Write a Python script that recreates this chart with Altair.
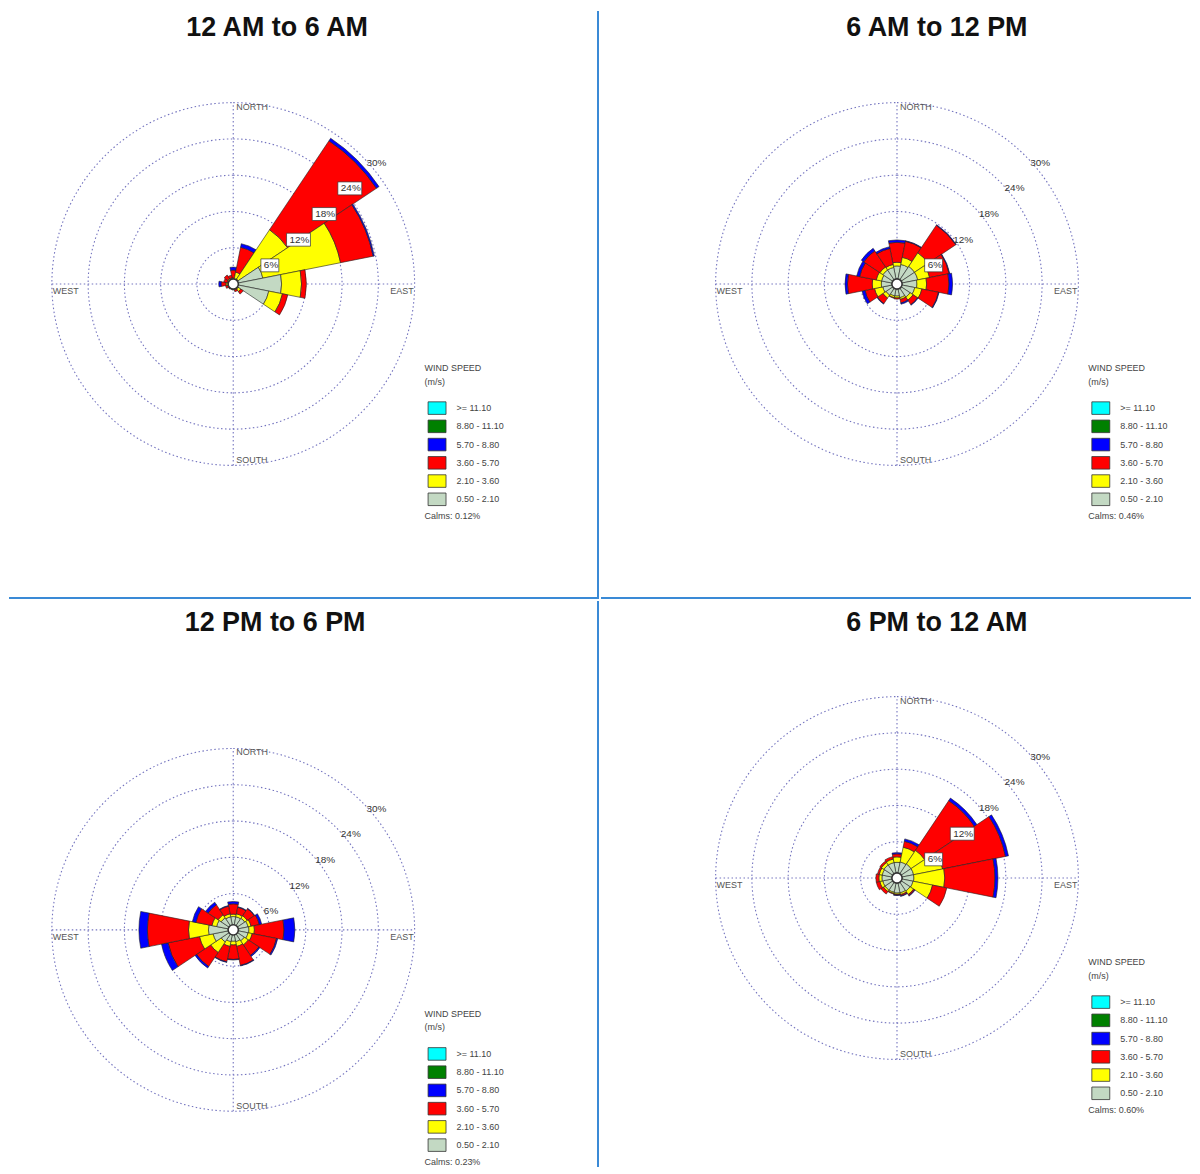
import altair as alt
import pandas as pd
import numpy as np

# ---------------- data ----------------
DIRS = ["N", "NNE", "NE", "ENE", "E", "ESE", "SE", "SSE",
        "S", "SSW", "SW", "WSW", "W", "WNW", "NW", "NNW"]
BINS = ["0.50 - 2.10", "2.10 - 3.60", "3.60 - 5.70", "5.70 - 8.80", "8.80 - 11.10", ">= 11.10"]
BIN_COLORS = ["#c3d9c3", "#ffff00", "#ff0000", "#0000ff", "#008000", "#00ffff"]
TITLES = ["12 AM to 6 AM", "6 AM to 12 PM", "12 PM to 6 PM", "6 PM to 12 AM"]
CALMS = ["Calms: 0.12%", "Calms: 0.46%", "Calms: 0.23%", "Calms: 0.60%"]
RINGS = [6, 12, 18, 24, 30]
RING_LABELS = ["6%", "12%", "18%", "24%", "30%"]
BOXED = [[True, True, True, True, False],
         [True, False, False, False, False],
         [False, False, False, False, False],
         [True, True, False, False, False]]
CARDINALS = ["NORTH", "SOUTH", "WEST", "EAST"]

# cumulative frequency (%) at the outer edge of each speed class, per direction
P1_GRAY = [0.7, 0.8, 1.0, 5.0, 8.0, 6.0, 1.0, 0.8, 0.7, 0.6, 0.6, 0.7, 0.8, 0.7, 0.8, 0.7]
P1_YELLOW = [1.0, 2.0, 10.8, 18.1, 11.3, 8.3, 1.5, 1.0, 0.9, 0.8, 0.8, 0.9, 1.2, 1.0, 1.1, 1.0]
P1_RED = [2.3, 6.2, 28.5, 23.6, 12.1, 9.2, 2.0, 1.3, 1.0, 0.9, 1.0, 1.3, 2.0, 1.6, 1.8, 1.5]
P1_BLUE = [2.8, 6.8, 29.0, 23.8, 12.1, 9.2, 2.0, 1.3, 1.0, 0.9, 1.0, 1.3, 2.4, 1.6, 1.8, 1.5]

P2_GRAY = [3.0, 3.3, 3.5, 3.5, 3.3, 3.0, 2.6, 2.3, 2.0, 2.0, 2.2, 2.4, 2.6, 2.6, 2.8, 2.8]
P2_YELLOW = [3.6, 4.5, 6.2, 5.5, 4.9, 4.2, 3.2, 2.6, 2.3, 2.3, 2.8, 3.8, 4.1, 3.5, 3.4, 3.3]
P2_RED = [6.9, 7.2, 11.7, 8.8, 8.6, 7.0, 4.1, 3.2, 2.5, 2.4, 3.9, 5.4, 8.2, 6.3, 6.6, 6.0]
P2_BLUE = [7.3, 7.3, 11.8, 8.9, 9.2, 7.1, 4.2, 3.4, 2.5, 2.4, 4.0, 5.9, 8.6, 6.8, 7.1, 6.3]

P3_GRAY = [2.2, 2.2, 2.3, 2.5, 2.6, 2.5, 2.2, 2.0, 1.9, 2.0, 2.4, 3.4, 4.1, 2.8, 2.4, 2.2]
P3_YELLOW = [2.6, 2.7, 2.8, 3.0, 3.5, 3.2, 3.0, 2.8, 2.5, 2.8, 4.5, 5.7, 7.4, 3.6, 3.0, 2.7]
P3_RED = [4.3, 3.8, 4.2, 4.4, 8.4, 7.3, 5.1, 6.0, 4.9, 5.4, 7.3, 11.0, 14.2, 6.3, 5.0, 4.0]
P3_BLUE = [4.7, 3.9, 4.3, 4.8, 10.2, 7.5, 5.3, 6.1, 5.0, 5.5, 7.6, 12.1, 15.6, 6.9, 5.5, 4.1]

P4_GRAY = [2.6, 2.7, 2.8, 2.8, 2.8, 2.7, 2.6, 2.5, 2.5, 2.4, 2.4, 2.4, 2.5, 2.5, 2.6, 2.6]
P4_YELLOW = [3.5, 5.2, 5.5, 7.7, 7.9, 6.0, 3.3, 2.8, 2.7, 2.6, 2.7, 2.9, 3.0, 3.0, 3.1, 3.2]
P4_RED = [4.0, 6.2, 15.4, 18.3, 16.2, 8.4, 3.5, 3.0, 2.8, 2.7, 3.2, 3.5, 3.5, 3.3, 3.4, 3.6]
P4_BLUE = [4.2, 6.6, 15.9, 18.8, 16.7, 8.4, 3.6, 3.1, 2.9, 2.7, 3.2, 3.5, 3.5, 3.3, 3.4, 3.6]

PANELS = [[P1_GRAY, P1_YELLOW, P1_RED, P1_BLUE],
          [P2_GRAY, P2_YELLOW, P2_RED, P2_BLUE],
          [P3_GRAY, P3_YELLOW, P3_RED, P3_BLUE],
          [P4_GRAY, P4_YELLOW, P4_RED, P4_BLUE]]

# ---------------- layout (pixels) ----------------
R = 182.0                      # radius of the 30 % ring
K = R / 30.0                   # pixels per percent
PANEL_W = [592, 592, 592, 592]
PANEL_H = [590, 590, 568, 568]
CENTERS = [(225, 274), (297, 274), (225, 330), (297, 278)]
TITLE_POS = [(269, 17), (337, 17), (267, 22), (337, 22)]
DIVIDERS = [["right", "bottom"], ["bottom"], ["right"], []]
FONT = "Liberation Sans"
LINE_BLUE = "#3a8ad6"
GRID = "#7474bf"


def build_panel(i):
    W, H = PANEL_W[i], PANEL_H[i]
    cx, cy = CENTERS[i]
    xs = alt.Scale(domain=[-cx / K, (W - cx) / K], nice=False, zero=False)
    ys = alt.Scale(domain=[-(H - cy) / K, cy / K], nice=False, zero=False)
    rs = alt.Scale(type="linear", domain=[0, 30], range=[0, R], zero=True, nice=False)
    ts = alt.Scale(domain=[0, 360], range=[0, 2 * np.pi], nice=False, zero=False)

    def X(f):
        return alt.X(f, type="quantitative", scale=xs, axis=None)

    def Y(f):
        return alt.Y(f, type="quantitative", scale=ys, axis=None)

    def RAD(f):
        return alt.Radius(f, type="quantitative", scale=rs, stack=None)

    # petals
    rows = []
    for d, name in enumerate(DIRS):
        prev = 0.0
        for b, vals in enumerate(PANELS[i]):
            v = vals[d]
            if v > prev:
                rows.append(dict(dir=name, a0=d * 22.5 - 11.25, a1=d * 22.5 + 11.25,
                                 r0=prev, r1=v, bin=BINS[b], cx=0.0, cy=0.0))
                prev = v
    petals = pd.DataFrame(rows)

    legend = alt.Legend(
        orient="none", legendX=cx + 192, legendY=cy + 80,
        title=["WIND SPEED", "(m/s)"], titleFont=FONT, titleFontSize=9,
        titleFontWeight="normal", titleColor="#444", titleLineHeight=14,
        titlePadding=12, labelFont=FONT, labelFontSize=9, labelColor="#444",
        labelOffset=10, symbolType="M-1,-0.7H1V0.7H-1Z", symbolSize=324,
        symbolStrokeColor="#333", symbolStrokeWidth=0.8, symbolOffset=3,
        rowPadding=0.3)

    petal_layer = alt.Chart(petals).mark_arc(stroke="#222", strokeWidth=0.6).encode(
        x=X("cx"), y=Y("cy"),
        theta=alt.Theta("a0:Q", scale=ts, stack=None),
        theta2="a1:Q",
        radius=RAD("r1"),
        radius2="r0:Q",
        color=alt.Color("bin:N", scale=alt.Scale(domain=BINS[::-1], range=BIN_COLORS[::-1]),
                        legend=legend),
    )

    # rings
    rings = pd.DataFrame({"rr": RINGS, "cx": 0.0, "cy": 0.0})
    ring_layer = alt.Chart(rings).mark_arc(filled=False, stroke=GRID, strokeWidth=1.1,
                                           strokeDash=[1.5, 2.5]).encode(
        x=X("cx"), y=Y("cy"),
        theta=alt.value(0), theta2=alt.value(2 * np.pi),
        radius=RAD("rr"),
    )

    # spokes
    spokes = pd.DataFrame({"x": [-30.0, 0.0], "y": [0.0, -30.0], "x2": [30.0, 0.0], "y2": [0.0, 30.0]})
    spoke_layer = alt.Chart(spokes).mark_rule(color=GRID, strokeWidth=1.1,
                                             strokeDash=[1.5, 2.5]).encode(
        x=X("x"), y=Y("y"), x2="x2:Q", y2="y2:Q")

    # calm circle
    calm = pd.DataFrame({"rc": [0.85], "cx": [0.0], "cy": [0.0]})
    calm_layer = alt.Chart(calm).mark_arc(fill="white", stroke="#333", strokeWidth=1.6).encode(
        x=X("cx"), y=Y("cy"),
        theta=alt.value(0), theta2=alt.value(2 * np.pi),
        radius=RAD("rc"),
    )

    # ring labels and boxes
    c45 = np.cos(np.pi / 4)
    lab = pd.DataFrame({"r": RINGS, "label": RING_LABELS, "boxed": BOXED[i]})
    lab["px"] = lab["r"] * c45
    lab["tx"] = lab["px"] + 5 / K
    lab["ty"] = lab["px"] - 7 / K
    lab["bx"] = lab["px"] + 2 / K
    lab["bx2"] = lab["px"] + (8 + 6 * lab["label"].str.len()) / K
    lab["by"] = lab["px"] - 0.5 / K
    lab["by2"] = lab["px"] - 13.5 / K
    boxes = lab[lab["boxed"]]
    box_layer = alt.Chart(boxes).mark_rect(fill="white", stroke="#333", strokeWidth=0.7).encode(
        x=X("bx"), x2="bx2:Q", y=Y("by"), y2="by2:Q")
    ring_text = alt.Chart(lab).mark_text(align="left", baseline="middle", font=FONT,
                                         fontSize=10, color="#333").encode(
        x=X("tx"), y=Y("ty"), text="label:N")

    # cardinal labels
    card = pd.DataFrame({
        "label": CARDINALS,
        "x": [3 / K, 3 / K, -30 + 1 / K, 30 - 1 / K],
        "y": [30 - 4 / K, -30 + 5 / K, -7 / K, -7 / K],
        "side": ["l", "l", "l", "r"],
    })
    card_left = alt.Chart(card[card["side"] == "l"]).mark_text(
        align="left", baseline="middle", font=FONT, fontSize=9, color="#555").encode(
        x=X("x"), y=Y("y"), text="label:N")
    card_right = alt.Chart(card[card["side"] == "r"]).mark_text(
        align="right", baseline="middle", font=FONT, fontSize=9, color="#555").encode(
        x=X("x"), y=Y("y"), text="label:N")

    # title
    tx, ty = TITLE_POS[i]
    title_df = pd.DataFrame({"label": [TITLES[i]], "x": [(tx - cx) / K], "y": [(cy - ty) / K]})
    title_layer = alt.Chart(title_df).mark_text(
        align="center", baseline="middle", font=FONT, fontSize=27, fontWeight="bold",
        color="#111").encode(x=X("x"), y=Y("y"), text="label:N")

    # calms
    calms_df = pd.DataFrame({"label": [CALMS[i]], "x": [192 / K], "y": [-233 / K]})
    calms_layer = alt.Chart(calms_df).mark_text(
        align="left", baseline="middle", font=FONT, fontSize=9, color="#444").encode(
        x=X("x"), y=Y("y"), text="label:N")

    layers = [spoke_layer, ring_layer, petal_layer, calm_layer, box_layer, ring_text,
              card_left, card_right, title_layer, calms_layer]

    # divider lines
    segs = []
    for side in DIVIDERS[i]:
        if side == "right":
            segs.append((W - 1, 0, W - 1, H))
        if side == "bottom":
            segs.append((0, H - 1, W, H - 1))
    if segs:
        div = pd.DataFrame(segs, columns=["px", "py", "px2", "py2"])
        div["x"] = (div["px"] - cx) / K
        div["x2"] = (div["px2"] - cx) / K
        div["y"] = (cy - div["py"]) / K
        div["y2"] = (cy - div["py2"]) / K
        layers.append(alt.Chart(div).mark_rule(color=LINE_BLUE, strokeWidth=2).encode(
            x=X("x"), y=Y("y"), x2="x2:Q", y2="y2:Q"))

    return alt.layer(*layers).properties(width=W, height=H)


panels = [build_panel(i) for i in range(4)]
chart = alt.concat(*panels, columns=2, spacing=0).resolve_scale(
    x="independent", y="independent", color="independent",
    radius="independent", theta="independent"
).resolve_legend(color="independent").properties(
    padding=0, background="white"
).configure_view(stroke=None)

chart.save("out.html", embed_options={"renderer": "svg", "actions": False})
